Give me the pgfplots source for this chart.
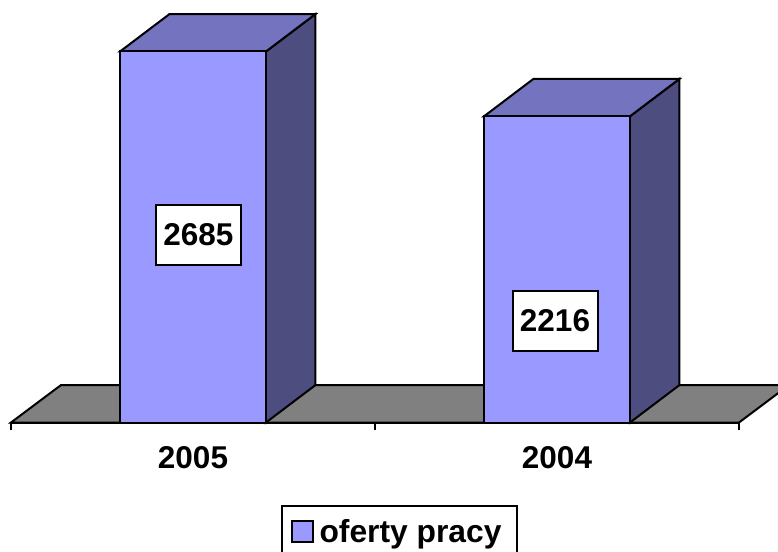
\documentclass[border=0pt]{standalone}
\usepackage{pgfplots}
\pgfplotsset{compat=1.18}
\usepackage{fontspec}
\setmainfont{Liberation Sans}
\definecolor{front}{HTML}{9999FF}
\definecolor{side}{HTML}{4D4D7F}
\definecolor{topf}{HTML}{7373BF}
\definecolor{floorc}{HTML}{808080}
\begin{document}
\begin{tikzpicture}[x=1pt,y=1pt]
\useasboundingbox (-11,-128.5) rectangle (767,422.5);
\begin{axis}[
  at={(0,0)},anchor=south west,
  scale only axis,width=728pt,height=414.54pt,
  xmin=-0.5,xmax=1.5,ymin=0,ymax=3000,
  clip=false,
  axis x line*=bottom,axis y line=none,
  axis line style={black,line width=2pt},
  xtick={0,1},xticklabels={2005,2004},
  minor xtick={-0.5,0.5,1.5},
  major tick length=0pt,minor tick length=7pt,
  tick align=outside,
  every minor tick/.style={black,line width=1.6pt},
  tick label style={font=\fontsize{31.5}{36}\selectfont\bfseries,yshift=-20.5pt},
  legend style={at={(axis cs:0.566,-792)},anchor=center,draw=black,line width=2pt,
    font=\fontsize{31.8}{36}\selectfont\bfseries,inner xsep=9pt,inner ysep=12pt},
  legend image code/.code={\draw[fill=front,draw=black,line width=2pt] (0pt,-10pt) rectangle (21pt,11pt);\path[draw=none,fill=none] (21pt,0pt) -- (26pt,0pt);},
]
% floor
\addplot[forget plot,fill=floorc,draw=black,line width=2pt] coordinates {(-0.5,0) (-0.3626,271) (1.6374,271) (1.5,0)} --cycle;
% side and top faces
\addplot[forget plot,fill=side,draw=black,line width=2pt] coordinates {(0.2005,0) (0.3365,271) (0.3365,2956) (0.2005,2685)} --cycle;
\addplot[forget plot,fill=topf,draw=black,line width=2pt] coordinates {(-0.2005,2685) (-0.0645,2956) (0.3365,2956) (0.2005,2685)} --cycle;
\addplot[forget plot,fill=side,draw=black,line width=2pt] coordinates {(1.2005,0) (1.3365,271) (1.3365,2487) (1.2005,2216)} --cycle;
\addplot[forget plot,fill=topf,draw=black,line width=2pt] coordinates {(0.7995,2216) (0.9355,2487) (1.3365,2487) (1.2005,2216)} --cycle;
% front faces
\addplot[ybar,bar width=146pt,fill=front,draw=black,line width=2pt] coordinates {(0,2685) (1,2216)};
\addlegendentry{\hbox{oferty pracy\kern4pt}}
\node[draw=black,fill=white,line width=2pt,minimum width=85pt,minimum height=60pt,inner sep=0pt,font=\fontsize{31.5}{36}\selectfont\bfseries] at (axis cs:0.015,1357) {2685};
\node[draw=black,fill=white,line width=2pt,minimum width=85pt,minimum height=60pt,inner sep=0pt,font=\fontsize{31.5}{36}\selectfont\bfseries] at (axis cs:0.9945,734) {2216};
\end{axis}
\end{tikzpicture}
\end{document}
